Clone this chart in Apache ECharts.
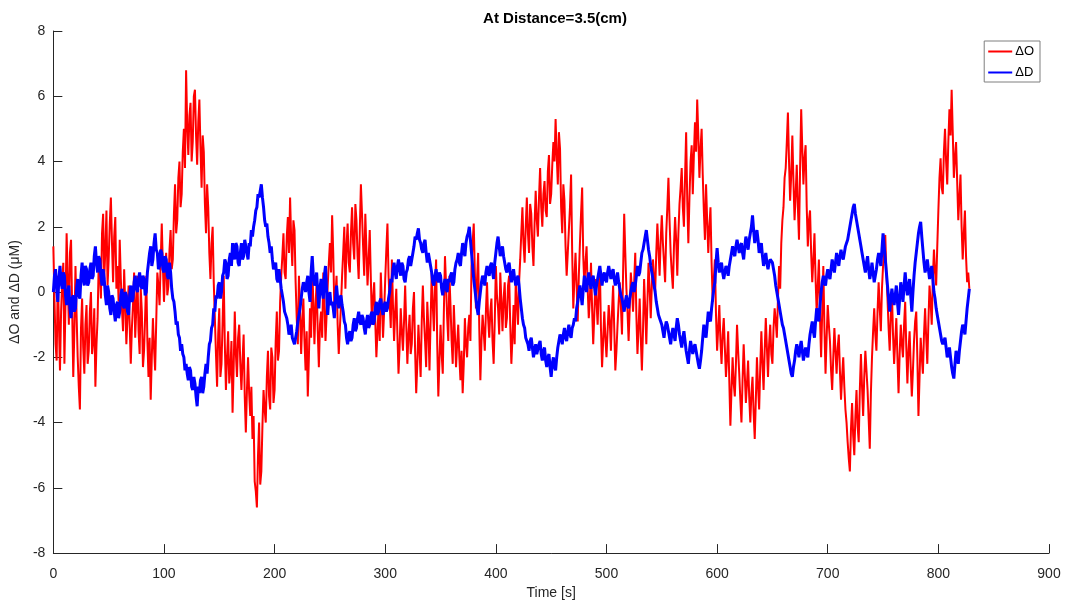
<!DOCTYPE html>
<html>
<head>
<meta charset="utf-8">
<script src="https://cdn.jsdelivr.net/npm/echarts@6/dist/echarts.min.js"></script>
<style>
html,body{margin:0;padding:0;background:#fff;}
#chart{width:1077px;height:605px;}
</style>
</head>
<body>
<div id="chart"></div>
<script>
// Sampling step of the time axis (s)
const timeStep = 1;
const xTicks = [0,100,200,300,400,500,600,700,800,900];
const yTicks = [-8,-6,-4,-2,0,2,4,6,8];
const seriesNames = ['\u0394O', '\u0394D'];

// ΔO values, every 1 s from 0 to 828 s
const deltaO = [
 1.4,-0.2,-1.6,-2.1,0.5,-0.9,-2.4,-0.6,0.3,0.9,-2.2,-0.3,1.8,0.4,-1.0,1.2,1.6,-0.5,-2.6,-1.2,
 0.8,-0.7,-2.0,-2.9,-3.6,-1.1,-0.2,-1.7,-2.5,-1.0,-0.4,-2.2,-1.8,-0.6,0.0,-1.9,-1.5,-0.5,-2.9,-1.6,
 -0.8,0.9,0.6,-0.2,1.8,2.4,0.4,1.3,2.5,0.2,1.0,2.1,2.9,1.5,0.3,1.7,2.3,0.1,0.8,-0.3,
 1.6,0.4,-0.5,-1.2,0.7,-0.4,-1.6,-0.8,0.2,-1.0,-2.2,-1.1,-0.4,0.6,-1.4,-0.5,0.5,-1.2,-1.9,0.1,
 -0.6,-2.3,-1.8,-0.7,0.5,-1.5,-2.6,-1.4,-3.3,-2.0,-0.8,-1.7,-2.4,-0.9,0.6,0.2,-0.4,0.9,2.1,0.8,
 -0.3,0.6,1.2,-0.1,0.2,1.3,1.9,0.7,1.0,2.4,3.3,1.8,2.2,3.5,4.0,2.6,3.0,4.3,5.0,3.8,
 6.8,5.1,4.2,5.4,5.8,4.0,4.6,6.0,6.2,4.8,3.9,5.2,5.9,4.4,3.2,4.8,4.3,2.7,1.8,3.3,
 2.6,1.2,0.4,1.5,2.0,0.3,-0.8,-1.9,-2.9,-1.3,-0.5,-2.6,-2.2,-0.9,0.5,-1.6,-3.0,-2.0,-1.2,-2.8,
 -2.4,-1.5,-3.7,-2.3,-0.6,-1.9,-2.6,-1.4,-1.0,-2.2,-3.0,-2.1,-1.3,-3.2,-4.3,-3.0,-2.0,-3.1,-3.8,-2.9,
 -4.5,-3.8,-5.8,-6.1,-6.6,-5.0,-4.0,-5.9,-5.5,-4.1,-3.0,-3.6,-4.0,-2.6,-1.8,-3.2,-3.6,-1.7,-2.0,-3.4,
 -3.0,-1.5,-0.6,-2.1,-1.8,-0.3,0.5,1.1,1.8,0.6,0.4,1.7,2.3,1.2,2.9,1.6,0.8,2.2,1.9,0.3,
 -0.8,-1.6,0.5,-0.6,-1.9,-0.9,-0.2,-1.5,-2.4,-1.2,-3.2,-2.0,-0.5,-1.4,0.8,-0.3,-1.6,-0.4,0.3,-1.2,
 -2.3,-1.0,-0.6,-1.4,0.6,-0.2,-1.5,-0.7,0.2,0.9,1.5,0.6,2.35,1.2,-0.5,-0.1,0.5,-1.0,-1.9,-1.1,
 -0.4,0.5,1.2,2.0,0.1,1.4,2.1,0.9,0.6,1.8,2.6,1.5,1.0,2.7,2.2,1.1,0.4,1.9,3.3,2.4,
 1.4,0.5,2.4,1.3,0.2,1.0,1.9,0.4,-1.0,-0.2,0.3,-0.9,-2.0,-1.2,-0.5,-1.5,0.6,-0.4,-1.4,-0.6,
 0.4,1.3,2.1,0.5,-0.3,-1.1,1.0,-0.4,-1.5,-0.6,0.1,-1.3,-2.5,-1.7,-0.5,-1.2,-1.8,-0.9,0.2,-1.0,
 -2.2,-1.3,-0.7,-1.9,-1.6,-0.5,0.0,-1.8,-3.1,-2.2,-1.0,-1.8,-2.6,-0.9,0.2,-0.8,-1.5,-2.3,-0.3,-1.1,
 -2.4,-0.9,0.6,-0.4,-1.2,0.2,1.0,-1.6,-3.2,-2.1,-1.0,-1.9,-2.5,-0.6,1.1,0.2,-0.8,-1.5,0.5,-0.4,
 -1.5,-2.2,-0.4,-1.3,-2.3,-1.6,-1.0,-2.0,-2.7,-1.8,-3.1,-2.2,-0.8,-1.6,-2.0,-1.1,-0.7,-1.5,0.8,1.5,
 2.1,0.6,-0.5,0.4,1.2,-1.1,-2.7,-1.5,-0.7,-1.2,-1.8,-0.6,0.3,-0.8,-1.4,-0.6,-0.2,-1.5,-2.2,-0.9,
 0.8,-0.1,-0.5,-1.3,0.6,-0.3,-1.2,-0.2,0.3,-1.1,-0.8,0.2,0.5,-1.0,-2.2,-1.4,-0.4,-1.6,0.4,-0.3,
 -1.0,0.3,1.0,1.8,2.6,1.5,0.9,2.0,2.9,1.8,1.2,2.7,2.4,1.4,0.8,2.1,3.1,2.2,1.7,2.9,
 3.8,2.6,2.0,3.0,3.4,2.5,2.3,3.7,4.2,2.7,3.0,3.9,4.6,4.0,5.3,4.2,3.3,4.9,4.4,2.6,
 1.8,3.3,2.8,1.4,0.5,1.2,1.9,2.6,3.6,1.2,-0.5,0.4,1.2,0.2,-0.9,0.5,1.5,2.4,3.2,1.1,
 0.2,0.9,1.4,0.1,-0.8,-0.2,0.9,-0.5,-1.6,-0.7,0.4,-0.3,-1.0,0.1,0.8,-1.1,-2.3,-1.5,-0.6,-1.4,
 -2.0,-1.2,-0.4,-0.9,-1.8,-0.6,0.2,-1.1,-2.4,-1.8,-1.0,-0.3,0.3,-0.4,-1.3,0.6,2.4,1.2,0.1,-0.6,
 -1.5,-0.5,0.6,0.1,-0.6,0.3,1.2,-0.7,-1.9,-1.1,-0.2,-1.4,-2.4,-1.2,0.4,-0.5,-1.6,-0.3,0.9,0.1,
 -0.8,0.2,1.0,0.4,0.0,1.2,2.1,1.3,0.5,1.6,2.35,1.5,0.9,0.3,1.8,2.6,3.5,2.2,1.2,0.6,
 0.1,1.4,2.3,1.6,0.5,1.8,2.7,3.2,3.8,2.6,2.0,3.5,4.9,2.8,1.5,2.9,4.0,4.5,3.0,4.2,
 5.2,4.3,5.9,4.8,3.5,4.4,5.0,3.6,2.5,1.6,3.3,2.2,1.2,2.0,2.6,0.9,-0.3,0.4,1.0,-0.7,
 -1.8,-1.1,-0.4,-1.5,-2.2,-1.3,-0.8,-1.7,-2.6,-2.0,-1.2,-2.7,-4.1,-3.0,-2.0,-2.8,-3.2,-2.2,-1.0,-1.8,
 -2.5,-3.3,-4.0,-2.7,-1.6,-2.5,-3.4,-2.8,-2.1,-3.2,-4.0,-3.1,-2.6,-3.7,-4.5,-3.3,-2.0,-2.9,-3.6,-2.3,
 -1.2,-2.2,-3.0,-1.8,-0.8,-1.7,-2.6,-1.6,-1.0,-1.9,-2.2,-1.1,-0.5,-0.9,-1.4,-0.2,0.8,0.1,1.5,2.2,
 2.6,3.5,3.8,4.6,5.5,4.0,2.8,3.6,4.8,3.4,2.2,3.0,3.9,2.6,1.6,3.8,5.6,4.4,3.3,4.1,
 4.5,2.6,1.4,2.2,2.5,1.2,0.3,1.0,1.8,0.4,-0.6,0.2,1.0,-0.8,-2.0,-0.6,0.8,-1.1,-2.5,-1.4,
 -0.4,-1.0,-1.5,-2.4,-3.0,-2.0,-1.1,-1.8,-2.5,-1.7,-1.3,-2.4,-3.3,-2.6,-2.0,-2.9,-3.6,-4.0,-4.6,-5.1,
 -5.5,-4.2,-3.4,-4.4,-5.0,-3.8,-3.0,-4.1,-4.6,-3.0,-1.9,-2.9,-3.8,-2.6,-1.8,-2.4,-3.0,-3.9,-4.8,-3.1,
 -2.0,-1.2,-0.5,-1.3,-1.8,-0.6,0.3,-0.5,-1.2,0.1,0.8,1.3,1.75,0.6,-0.2,-1.1,-1.8,-0.7,0.0,-1.3,
 -2.2,-1.5,-0.8,-2.0,-3.1,-1.9,-1.0,-1.6,-2.0,-1.0,-0.3,-1.7,-2.8,-1.8,-1.2,-2.3,-3.2,-2.4,-1.5,-0.9,
 -0.6,-2.0,-3.8,-2.6,-1.4,-2.0,-2.5,-1.3,-0.5,-1.4,-2.2,-0.9,0.2,-0.3,-1.0,0.4,1.3,0.6,0.2,1.4,
 2.5,3.5,4.1,3.2,3.0,4.3,5.0,4.0,3.3,4.6,5.6,4.8,6.2,4.9,3.5,4.1,4.6,3.4,2.2,2.9,
 3.6,2.0,1.0,1.8,2.5,1.1,0.3,0.6,0.1
];

// ΔD values, every 1 s from 0 to 828 s
const deltaD = [
 0.0,0.5,0.7,0.1,-0.3,0.4,0.8,0.3,0.1,0.6,0.5,-0.1,-0.4,0.0,0.2,-0.5,-0.8,-0.2,-0.1,-0.6,
 -0.5,0.1,0.4,-0.1,-0.2,0.5,0.9,0.4,0.2,0.8,0.7,0.2,0.3,0.7,0.9,0.4,0.5,1.1,1.4,0.9,
 0.6,1.1,1.0,0.5,0.2,0.7,0.4,-0.1,-0.4,0.2,0.0,-0.5,-0.7,-0.1,-0.2,-0.6,-0.9,-0.4,-0.3,-0.8,
 -0.6,-0.1,0.1,-0.4,-0.5,0.0,-0.1,-0.6,-0.7,-0.1,0.2,-0.3,-0.2,0.3,0.5,0.1,0.0,0.4,0.6,0.2,
 0.1,0.5,0.4,-0.1,0.0,0.6,0.9,1.2,1.4,0.8,1.0,1.5,1.8,1.3,1.2,0.7,0.8,1.3,1.2,0.7,
 0.6,1.1,1.0,0.5,0.4,0.9,0.6,0.1,-0.2,-0.3,-0.6,-1.0,-0.9,-1.3,-1.4,-1.8,-1.6,-1.9,-2.0,-2.4,
 -2.2,-2.5,-2.7,-2.3,-2.4,-2.9,-3.0,-2.6,-2.8,-3.2,-3.5,-2.9,-3.1,-2.7,-2.6,-3.1,-2.9,-2.5,-2.2,-2.5,
 -2.0,-1.6,-1.5,-1.1,-1.0,-0.5,-0.6,-0.1,-0.2,0.2,0.3,-0.2,0.0,0.5,0.6,1.0,0.9,0.4,0.5,1.0,
 1.2,0.8,1.5,1.2,1.0,1.5,1.4,0.9,0.8,1.2,1.5,1.0,1.1,1.6,1.6,1.2,1.0,1.5,1.4,1.9,
 1.7,2.0,2.2,2.5,2.6,3.0,2.9,3.1,3.3,2.9,2.6,2.2,2.0,2.1,1.7,1.5,1.2,1.4,1.0,0.7,
 0.8,0.9,0.4,0.3,0.7,0.4,0.1,-0.1,-0.3,-0.6,-0.7,-0.8,-1.0,-1.3,-1.2,-1.0,-1.4,-1.5,-1.6,-1.4,
 -1.2,-0.9,-0.7,-0.5,-0.2,0.1,0.3,0.2,0.0,0.3,0.5,0.0,-0.3,0.6,1.1,0.5,0.2,0.3,0.6,0.0,
 -0.5,0.1,0.4,0.0,-0.2,0.5,0.8,0.0,-0.7,-0.2,0.0,-0.4,-0.3,-0.5,-0.8,-0.2,0.2,-0.2,-0.5,-0.2,
 -0.1,-0.4,-0.6,-0.9,-1.0,-1.4,-1.6,-1.3,-1.2,-1.5,-1.4,-1.0,-0.8,-1.2,-1.1,-0.8,-0.6,-0.9,-1.0,-0.7,
 -0.8,-1.1,-1.3,-0.9,-0.7,-1.1,-1.0,-0.7,-0.6,-1.0,-0.9,-0.5,-0.3,-0.7,-0.6,-0.3,-0.2,-0.5,-0.7,-0.4,
 -0.3,-0.6,-0.5,-0.2,0.0,0.4,0.3,0.7,0.9,0.6,0.4,0.8,1.0,0.7,0.5,0.9,0.8,0.4,0.3,0.6,
 0.7,1.0,1.1,0.8,0.8,1.2,1.4,1.7,1.6,1.8,1.95,1.6,1.5,1.3,1.2,1.5,1.6,1.2,0.9,1.2,
 1.0,0.8,0.6,0.3,0.2,0.5,0.7,0.4,0.3,0.6,0.5,0.1,-0.1,0.2,0.4,0.1,0.0,0.4,0.3,0.5,
 0.6,0.2,0.3,0.7,0.9,1.0,1.2,0.9,0.8,1.2,1.5,1.3,1.1,1.5,1.7,1.8,2.0,1.6,1.2,0.8,
 0.4,0.1,-0.2,-0.5,-0.7,-0.3,0.0,0.3,0.5,0.4,0.2,0.6,0.8,0.6,0.5,0.8,0.9,0.6,0.4,0.9,
 1.2,1.5,1.7,1.4,1.1,1.3,1.4,1.1,0.9,0.7,0.6,0.8,0.9,0.6,0.3,0.5,0.7,0.4,0.2,0.4,
 0.5,0.2,-0.2,-0.5,-0.8,-1.0,-1.1,-1.4,-1.5,-1.6,-1.8,-1.5,-1.4,-1.7,-2.0,-1.8,-1.6,-1.9,-1.9,-1.6,
 -1.5,-1.9,-2.1,-1.8,-1.7,-2.1,-2.3,-2.0,-1.9,-2.3,-2.6,-2.2,-2.0,-2.3,-2.4,-2.0,-1.7,-1.5,-1.3,-1.4,
 -1.6,-1.3,-1.1,-1.4,-1.5,-1.2,-1.0,-1.3,-1.4,-1.1,-1.0,-0.8,-0.9,-0.5,-0.3,0.0,0.2,-0.1,-0.4,0.1,
 0.5,0.2,0.0,0.4,0.6,0.3,0.1,0.4,0.5,0.2,-0.1,0.2,0.4,0.6,0.8,0.5,0.2,0.5,0.6,0.4,
 0.3,0.6,0.8,0.6,0.4,0.6,0.7,0.4,0.2,0.4,0.6,0.3,0.1,-0.1,-0.2,-0.4,-0.6,-0.3,-0.1,-0.4,
 -0.5,-0.2,0.0,0.2,0.3,0.0,0.2,0.5,0.8,0.5,0.6,0.9,1.2,1.3,1.5,1.7,1.9,1.6,1.3,1.1,
 0.8,0.6,0.4,0.2,0.0,-0.3,-0.5,-0.7,-0.8,-0.9,-1.0,-1.2,-1.4,-1.1,-0.9,-1.0,-1.2,-1.4,-1.6,-1.3,
 -1.1,-1.3,-1.5,-1.1,-0.8,-1.0,-1.3,-1.5,-1.7,-1.4,-1.2,-1.5,-1.8,-2.0,-2.2,-1.8,-1.5,-1.7,-1.9,-1.7,
 -1.6,-1.8,-2.0,-2.2,-2.35,-2.1,-1.8,-1.4,-1.0,-1.2,-1.4,-1.0,-0.6,-0.8,-0.9,-0.5,-0.2,0.1,0.3,0.9,
 1.35,0.9,0.6,0.8,0.9,0.6,0.4,0.6,0.8,0.7,0.5,0.8,1.0,1.2,1.4,1.2,1.1,1.4,1.6,1.4,
 1.2,1.4,1.5,1.2,1.0,1.4,1.7,1.5,1.3,1.6,1.8,2.0,2.35,1.9,1.5,1.7,1.9,1.6,1.2,1.3,
 1.5,1.1,0.8,1.0,1.2,0.9,0.7,0.9,1.0,1.0,0.9,0.7,0.5,0.2,0.0,-0.2,-0.4,-0.6,-0.8,-1.0,
 -1.1,-1.3,-1.5,-1.7,-1.9,-2.1,-2.3,-2.5,-2.6,-2.3,-2.1,-1.8,-1.6,-1.8,-2.0,-1.7,-1.5,-1.8,-2.1,-1.9,
 -1.7,-1.9,-2.0,-1.6,-1.3,-1.1,-0.9,-1.2,-1.4,-0.9,-0.5,-0.7,-0.9,-0.4,0.0,0.3,0.5,0.3,0.2,0.5,
 0.7,0.5,0.4,0.7,1.0,0.8,0.6,0.9,1.2,1.0,0.8,1.1,1.3,1.1,1.0,1.2,1.4,1.5,1.6,1.8,
 2.0,2.2,2.4,2.6,2.7,2.4,2.2,2.0,1.8,1.6,1.4,1.2,1.0,0.8,0.6,0.9,1.1,0.7,0.4,0.6,
 0.9,0.6,0.3,0.5,0.7,1.0,1.2,1.0,0.8,1.3,1.8,1.4,1.0,0.6,0.2,-0.2,-0.6,-0.2,0.1,-0.2,
 -0.4,-0.1,0.2,-0.3,-0.7,-0.2,0.3,0.0,-0.3,0.2,0.6,0.2,-0.1,0.2,0.4,-0.1,-0.6,0.0,0.5,0.9,
 1.2,1.5,1.8,2.0,2.15,1.7,1.3,0.9,0.6,0.8,1.0,0.7,0.4,0.6,0.8,0.4,0.0,-0.2,-0.5,-0.7,
 -0.9,-1.1,-1.3,-1.5,-1.6,-1.5,-1.4,-1.7,-2.0,-1.9,-1.7,-2.0,-2.3,-2.5,-2.65,-2.2,-1.8,-2.0,-2.2,-1.8,
 -1.5,-1.2,-1.0,-1.1,-1.3,-0.9,-0.5,-0.2,0.1
];

function toPairs(vals){ return vals.map((v,i)=>[i*timeStep, v]); }

const chart = echarts.init(document.getElementById('chart'), null, {renderer:'canvas'});
const axisColor = '#262626';
const fontFam = 'Liberation Sans, Arial, sans-serif';
chart.setOption({
  backgroundColor:'#ffffff',
  animation:false,
  title:{
    text:'At Distance=3.5(cm)',
    left:550, top:6, textAlign:'center',
    textStyle:{fontSize:15, fontWeight:'bold', color:'#000', fontFamily:fontFam}
  },
  legend:{
    orient:'vertical', right:37, top:41,
    data:seriesNames,
    icon:'rect',
    itemWidth:24, itemHeight:2, itemGap:6,
    padding:[3,6,2,4],
    borderColor:'#7f7f7f', borderWidth:1, backgroundColor:'#fff',
    textStyle:{fontSize:13, color:'#000', fontFamily:fontFam, lineHeight:15, padding:[0,0,0,-2]}
  },
  grid:{left:52, right:28, top:31, bottom:48, containLabel:false},
  xAxis:{
    type:'value', min:0, max:900, interval:100,
    name:'Time [s]', nameLocation:'middle', nameGap:29,
    nameTextStyle:{fontSize:14, color:axisColor, fontFamily:fontFam},
    axisLine:{show:true, onZero:false, lineStyle:{color:axisColor, width:1}},
    axisTick:{show:true, inside:true, length:9, lineStyle:{color:axisColor}},
    axisLabel:{fontSize:14, color:axisColor, margin:14, fontFamily:fontFam,
      formatter:v=> xTicks.includes(v) ? String(v) : ''},
    splitLine:{show:false}
  },
  yAxis:{
    type:'value', min:-8, max:8, interval:2,
    name:'\u0394O and \u0394D (\u03bcM)', nameLocation:'middle', nameGap:25,
    nameTextStyle:{fontSize:14, color:axisColor, fontFamily:fontFam},
    axisLine:{show:true, onZero:false, lineStyle:{color:axisColor, width:1}},
    axisTick:{show:true, inside:true, length:9, lineStyle:{color:axisColor}},
    axisLabel:{fontSize:14, color:axisColor, margin:8, fontFamily:fontFam,
      formatter:v=> yTicks.includes(v) ? String(v) : ''},
    splitLine:{show:false}
  },
  series:[
    {name:seriesNames[0], type:'line', data:toPairs(deltaO), showSymbol:false, symbol:'none',
     lineStyle:{color:'#ff0000', width:2}, itemStyle:{color:'#ff0000'}, sampling:null, z:2},
    {name:seriesNames[1], type:'line', data:toPairs(deltaD), showSymbol:false, symbol:'none',
     lineStyle:{color:'#0000ff', width:3}, itemStyle:{color:'#0000ff'}, sampling:null, z:3}
  ]
});
</script>
</body>
</html>
